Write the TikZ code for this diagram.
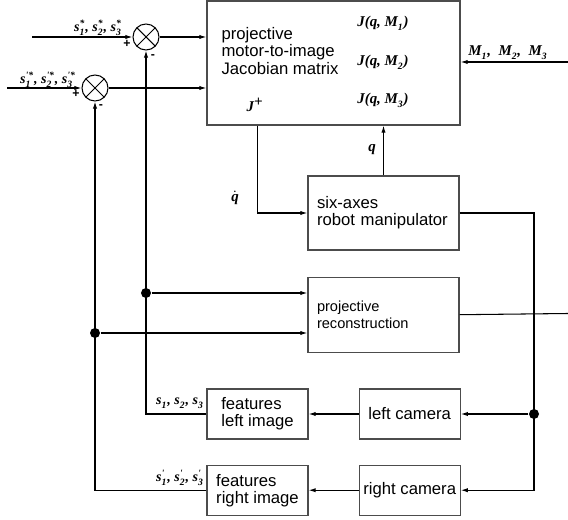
\documentclass[tikz,border=0pt]{standalone}
\usepackage[no-math]{fontspec}
\setmainfont{Liberation Sans}
\newfontfamily\lblfont{Liberation Serif}
\usetikzlibrary{positioning,arrows.meta}

% bold italic serif symbol with stacked index and mark
\newcommand{\sym}[1]{{\lblfont\bfseries\itshape #1}}
\newcommand{\idx}[3]{\sym{#1}$_{\hbox{\sym{\fontsize{5.5}{6}\selectfont #2}}}^{\hbox{\sym{\fontsize{5.5}{6}\selectfont #3}}}$}

\begin{document}
\begin{tikzpicture}[
    x=0.02cm, y=-0.02cm,
    font=\fontsize{9.5}{9.7}\selectfont,
    >={Latex[length=4pt,width=2.4pt]},
    line width=0.6pt,
    box/.style={
        draw=black!70,
        line width=0.7pt,
        align=left,
        inner sep=0pt
    },
    bigbox/.style={
        box,
        minimum width=3.02cm,
        minimum height=1.48cm,
        text width=2.66cm,
        inner xsep=0.18cm
    },
    smallbox/.style={
        box,
        minimum width=2.02cm,
        minimum height=1.0cm
    },
    sumnode/.style={
        circle, draw,
        minimum size=0.52cm,
        inner sep=0pt,
        path picture={
            \draw (path picture bounding box.south west) -- (path picture bounding box.north east)
                  (path picture bounding box.north west) -- (path picture bounding box.south east);
        }
    },
    junction/.style={circle, fill, minimum size=0.2cm, inner sep=0pt},
    siglabel/.style={font=\fontsize{8}{9}\selectfont, inner sep=0.5pt},
    jlabel/.style={font=\fontsize{8.5}{10}\selectfont, inner sep=0.5pt},
    pmsign/.style={font=\scriptsize\bfseries, inner sep=0pt}
]
\useasboundingbox (0,0) rectangle (568,520);

% Jacobian block
\node[box, minimum width=5.06cm, minimum height=2.48cm] (jac) at (333.5,63) {};
\node[anchor=west, align=left, inner sep=0pt] (jactxt) at (221,51) {projective\\motor-to-image\\Jacobian matrix};
\node[jlabel] (jplus) at (255,105) {\sym{J}$^{\hbox{\sym{+}}}$};
\node[jlabel] (jq1) at (383,23) {\sym{J(q, }\idx{M}{1}{}\sym{)}};
\node[jlabel] (jq2) at (383,62) {\sym{J(q, }\idx{M}{2}{}\sym{)}};
\node[jlabel] (jq3) at (383,100) {\sym{J(q, }\idx{M}{3}{}\sym{)}};

% Summing junctions
\node[sumnode] (sum1) at (146,37) {};
\node[sumnode] (sum2) at (95,88) {};
\coordinate (in1) at (32,37);
\coordinate (in2) at (7,88);

% Robot and reconstruction
\node[bigbox] (robot) at (383.5,213) {six-axes\\robot manipulator};
\node[bigbox, minimum height=1.5cm, font=\fontsize{8.3}{9.7}\selectfont, below=0.52cm of robot] (recon) {projective\\reconstruction};

% Cameras and features
\node[smallbox] (featL) at (257.5,414) {features\\left image};
\node[smallbox, right=1.0cm of featL] (camL) {left camera};
\node[smallbox, below=0.5cm of featL] (featR) {features\\right image};
\node[smallbox, right=1.0cm of featR] (camR) {right camera};

% Junction points
\node[junction] (dot1) at (146,293) {};
\node[junction] (dot2) at (95,333) {};
\node[junction] (dotR) at (534,414) {};
\coordinate (min) at (568,62);
\coordinate (rout) at (568,313.5);

% Labels
\node[siglabel] (sstar) at (98,28) {\idx{s}{1}{*}\sym{, }\idx{s}{2}{*}\sym{, }\idx{s}{3}{*}};
\node[siglabel] (spstar) at (48,80) {\idx{s}{1}{'*}\sym{, }\idx{s}{2}{'*}\sym{, }\idx{s}{3}{'*}};
\node[siglabel] (sfeat) at (180,403) {\idx{s}{1}{}\sym{, }\idx{s}{2}{}\sym{, }\idx{s}{3}{}};
\node[siglabel] (spfeat) at (180,478) {\idx{s}{1}{'}\sym{, }\idx{s}{2}{'}\sym{, }\idx{s}{3}{'}};
\node[jlabel] (mlabel) at (508,53) {\idx{M}{1}{}\sym{,\ \ }\idx{M}{2}{}\sym{,\ \ }\idx{M}{3}{}};
\node[jlabel] (qdot) at (235,198) {$\dot{\hbox{\sym{q}}}$};
\node[jlabel] (qlabel) at (372,150) {\sym{q}};
\node[pmsign] (plus1) at (127,44) {+};
\node[pmsign] (minus1) at (153,57) {-};
\node[pmsign] (plus2) at (76,94) {+};
\node[pmsign] (minus2) at (101,107) {-};

% Connectors
\draw[->] (in1) -- (sum1.west);
\draw[->] (in2) -- (sum2.west);
\draw[->] (sum1.east) -- (sum1 -| jac.west);
\draw[->] (sum2.east) -- (sum2 -| jac.west);
\draw[->] (min) -- (min -| jac.east);

\draw[->] ([xshift=1.02cm]jac.south west) |- (robot.west);
\draw[->] (robot.north) -- (robot.north |- jac.south);

\draw[->] (featL.west) -| (sum1.south);
\draw[->] (featR.west) -| (sum2.south);
\draw[->] (dot1) -- (dot1 -| recon.west);
\draw[->] (dot2) -- (dot2 -| recon.west);
\draw (recon.east) -- (rout);

\draw (robot.east) -| (dotR.center);
\draw[->] (dotR.center) |- (camR.east);
\draw[->] (dotR) -- (camL);
\draw[->] (camL) -- (featL);
\draw[->] (camR) -- (featR);

\end{tikzpicture}
\end{document}
